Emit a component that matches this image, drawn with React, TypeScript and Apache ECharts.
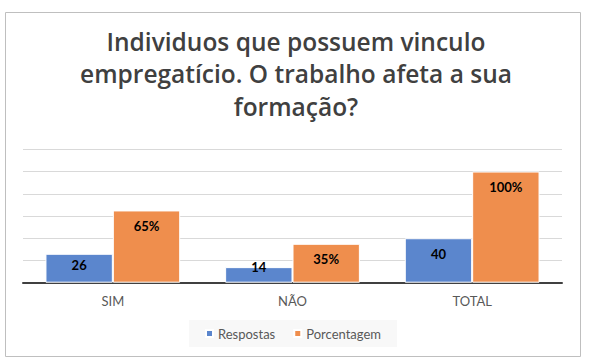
import React, { useEffect, useRef } from "react";
import * as echarts from "echarts";

const categories = ["SIM", "NÃO", "TOTAL"];
const respostas = [26, 14, 40];
const porcentagem = [65, 35, 100];
const seriesNames = ["Respostas", "Porcentagem"];
const titleText = "Individuos que possuem vinculo\nempregatício. O trabalho afeta a sua\nformação?";

const FONT = "Lato, 'Open Sans', sans-serif";
const TITLE_FONT = "'Open Sans', Lato, sans-serif";

function labelDistance(v: number): any {
  if (v >= 30) return { position: "insideTop", distance: 9 };
  if (v >= 20) return { position: "insideTop", distance: 5 };
  return { position: "insideTop", distance: -7 };
}

export default function App() {
  const ref = useRef<HTMLDivElement>(null);
  useEffect(() => {
    if (!ref.current) return;
    const chart = echarts.init(ref.current, null, { renderer: "svg" });
    const labelBase = {
      show: true,
      color: "#000000",
      fontFamily: FONT,
      fontSize: 13,
      fontWeight: "bold" as const,
    };
    chart.setOption({
      animation: false,
      backgroundColor: "#ffffff",
      textStyle: { fontFamily: FONT },
      title: {
        text: titleText,
        left: 291,
        textAlign: "center",
        top: 20,
        textStyle: {
          fontFamily: TITLE_FONT,
          fontSize: 24.5,
          fontWeight: 600,
          color: "#404040",
          lineHeight: 32.5,
        },
      },
      graphic: [
        {
          type: "rect",
          shape: { x: 5.5, y: 12.5, width: 575, height: 344 },
          style: { fill: "none", stroke: "#BFBFBF", lineWidth: 1 },
          silent: true,
          z: -1,
        },
      ],
      legend: {
        data: seriesNames,
        left: 189,
        top: 320,
        backgroundColor: "#F8F8F8",
        padding: [7, 16],
        itemWidth: 7,
        itemHeight: 7,
        itemGap: 18,
        icon: "rect",
        textStyle: { color: "#595959", fontSize: 13, fontFamily: FONT },
      },
      grid: { left: 23, right: 33, top: 149.3, bottom: 81.3, containLabel: false },
      xAxis: {
        type: "category",
        data: categories,
        axisLine: { lineStyle: { color: "#404040", width: 2 } },
        axisTick: { show: false },
        axisLabel: { color: "#595959", fontSize: 13, fontFamily: FONT, margin: 12 },
      },
      yAxis: {
        type: "value",
        min: 0,
        max: 120,
        interval: 20,
        axisLabel: { show: false },
        axisLine: { show: false },
        axisTick: { show: false },
        splitLine: { lineStyle: { color: "#D9D9D9", width: 1 } },
      },
      series: [
        {
          name: seriesNames[0],
          type: "bar",
          barGap: "0%",
          barCategoryGap: "25%",
          itemStyle: { color: "#5B86CD", borderColor: "#ffffff", borderWidth: 1 },
          data: respostas.map((v) => ({ value: v, label: { ...labelBase, ...labelDistance(v) } })),
          label: labelBase,
        },
        {
          name: seriesNames[1],
          type: "bar",
          barGap: "0%",
          barCategoryGap: "25%",
          itemStyle: { color: "#EF8E4D", borderColor: "#ffffff", borderWidth: 1 },
          data: porcentagem.map((v) => ({
            value: v,
            label: { ...labelBase, ...labelDistance(v), formatter: "{c}%" },
          })),
          label: { ...labelBase, formatter: "{c}%" },
        },
      ],
    });
    return () => chart.dispose();
  }, []);
  return (
    <div
      ref={ref}
      style={{ position: "fixed", left: 0, top: 0, width: 595, height: 364 }}
    />
  );
}
